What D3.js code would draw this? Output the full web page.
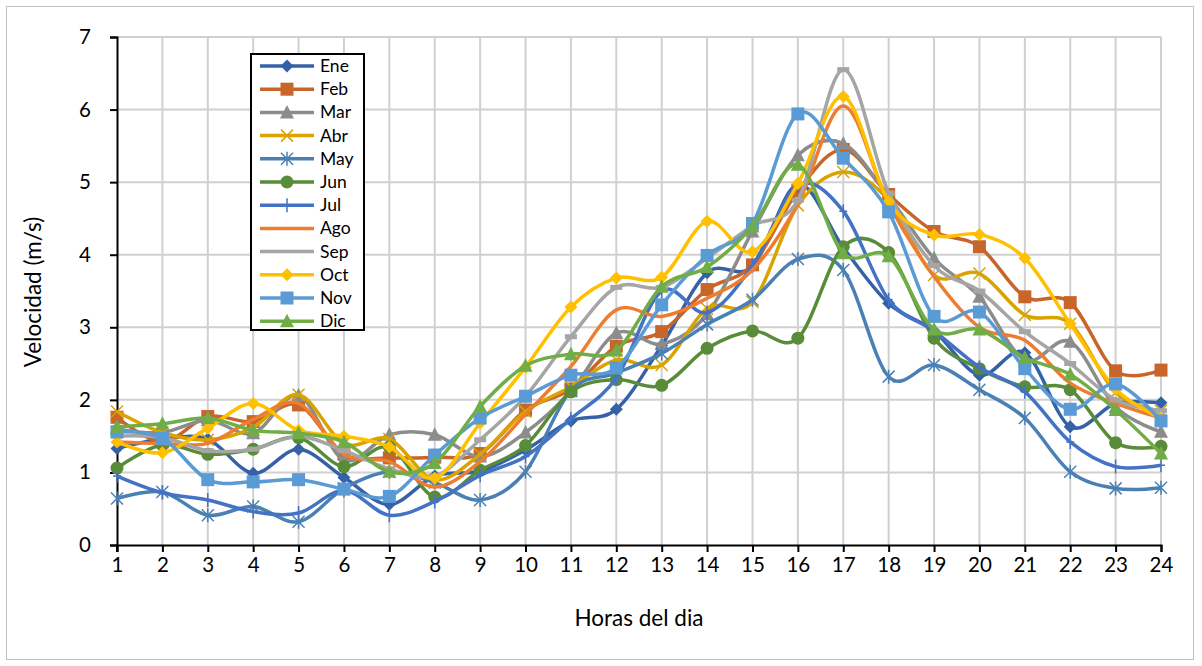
<!DOCTYPE html>
<html>
<head>
<meta charset="utf-8">
<script src="https://cdn.jsdelivr.net/npm/d3@7"></script>
<style>
  body { margin: 0; background: #fff; }
  text { font-family: Lato, "Open Sans", sans-serif; fill: #000; }
</style>
</head>
<body>
<div id="vis"></div>
<script>
// set width and height for svg
var width = 1202;
var height = 666;

// hours of the day (categories)
var hours = d3.range(1, 25);
var yTicks = [0, 1, 2, 3, 4, 5, 6, 7];

// monthly series (m/s)
var months = ["Ene", "Feb", "Mar", "Abr", "May", "Jun", "Jul", "Ago", "Sep", "Oct", "Nov", "Dic"];
var ene = [1.33, 1.46, 1.46, 0.99, 1.32, 0.93, 0.56, 0.95, 1.02, 1.31, 1.71, 1.87, 2.75, 3.75, 3.84, 4.97, 4.1, 3.33, 2.95, 2.34, 2.65, 1.63, 1.95, 1.96];
var feb = [1.76, 1.42, 1.77, 1.7, 1.93, 1.25, 1.2, 1.21, 1.26, 1.86, 2.15, 2.74, 2.94, 3.52, 3.86, 4.88, 5.45, 4.83, 4.32, 4.11, 3.42, 3.34, 2.4, 2.41];
var mar = [1.6, 1.55, 1.72, 1.54, 2.06, 1.17, 1.52, 1.52, 1.22, 1.55, 2.12, 2.92, 2.77, 3.18, 4.32, 5.37, 5.53, 4.8, 3.95, 3.42, 2.55, 2.8, 1.9, 1.56];
var abr = [1.84, 1.55, 1.45, 1.62, 2.07, 1.4, 1.46, 0.9, 1.25, 1.84, 2.18, 2.55, 2.48, 3.26, 3.35, 4.68, 5.14, 4.75, 3.72, 3.74, 3.17, 3.05, 2.1, 1.85];
var may = [0.64, 0.73, 0.41, 0.53, 0.32, 0.78, 1.01, 0.86, 0.62, 1.01, 2.13, 2.37, 2.64, 3.04, 3.38, 3.94, 3.79, 2.32, 2.48, 2.14, 1.75, 1.01, 0.78, 0.79];
var jun = [1.06, 1.38, 1.25, 1.32, 1.48, 1.08, 1.35, 0.66, 1.03, 1.37, 2.11, 2.28, 2.2, 2.71, 2.95, 2.85, 4.11, 4.03, 2.85, 2.43, 2.18, 2.14, 1.41, 1.36];
var jul = [0.95, 0.72, 0.62, 0.46, 0.44, 0.75, 0.41, 0.6, 0.96, 1.22, 1.74, 2.3, 3.5, 3.2, 3.85, 4.95, 4.6, 3.38, 2.95, 2.45, 2.11, 1.42, 1.08, 1.1];
var ago = [1.42, 1.4, 1.4, 1.73, 1.95, 1.25, 1.15, 0.8, 1.15, 1.8, 2.46, 3.24, 3.15, 3.4, 3.79, 4.7, 6.05, 4.7, 3.7, 3.0, 2.82, 2.23, 1.95, 1.75];
var sep = [1.5, 1.48, 1.3, 1.32, 1.5, 1.3, 1.05, 0.95, 1.45, 2.05, 2.87, 3.55, 3.55, 3.95, 4.4, 4.75, 6.55, 4.85, 3.85, 3.5, 2.94, 2.5, 2.0, 1.85];
var oct = [1.42, 1.27, 1.61, 1.95, 1.58, 1.5, 1.35, 0.92, 1.68, 2.45, 3.28, 3.68, 3.69, 4.46, 4.04, 4.98, 6.18, 4.73, 4.27, 4.28, 3.95, 3.05, 2.15, 1.75];
var nov = [1.56, 1.47, 0.9, 0.87, 0.9, 0.77, 0.67, 1.24, 1.75, 2.05, 2.34, 2.44, 3.31, 3.99, 4.43, 5.94, 5.33, 4.59, 3.15, 3.21, 2.43, 1.87, 2.22, 1.71];
var dic = [1.63, 1.67, 1.75, 1.58, 1.54, 1.42, 1.01, 1.13, 1.91, 2.47, 2.63, 2.68, 3.56, 3.83, 4.39, 5.24, 4.02, 3.98, 2.97, 2.97, 2.58, 2.35, 1.86, 1.26];

var seriesValues = [ene, feb, mar, abr, may, jun, jul, ago, sep, oct, nov, dic];
var colors = ["#3461A8", "#C8652B", "#8C8C8C", "#D9A300", "#4A80B3", "#588C38",
              "#4472C4", "#ED7D31", "#A5A5A5", "#FFC000", "#5B9BD5", "#70AD47"];
var markers = ["diamond", "square", "triangle", "x", "asterisk", "circle",
               "plus", "none", "dash", "diamond", "square", "triangle"];

var series = months.map(function(m, i) {
  return { name: m, color: colors[i], marker: markers[i],
           values: seriesValues[i].map(function(v, j) { return { hour: hours[j], value: v }; }) };
});

var svg = d3.select("#vis").append("svg")
  .attr("width", width)
  .attr("height", height);

// outer chart border
svg.append("rect")
  .attr("x", 6.5).attr("y", 6.5)
  .attr("width", 1187).attr("height", 653)
  .attr("fill", "#fff")
  .attr("stroke", "#BFBFBF");

var x = d3.scaleLinear().domain([1, 24]).range([117, 1161]);
var y = d3.scaleLinear().domain([0, 7]).range([545, 37]);

// gridlines
svg.append("g").selectAll("line.h")
  .data(yTicks.slice(1))
  .enter().append("line")
  .attr("x1", x(1)).attr("x2", x(24))
  .attr("y1", d => y(d)).attr("y2", d => y(d))
  .attr("stroke", "#D0D0D0").attr("stroke-width", 2);

svg.append("g").selectAll("line.v")
  .data(hours.slice(1))
  .enter().append("line")
  .attr("x1", d => x(d)).attr("x2", d => x(d))
  .attr("y1", y(0)).attr("y2", y(7))
  .attr("stroke", "#D0D0D0").attr("stroke-width", 2);

// axes
var yAxis = d3.axisLeft(y).tickValues(yTicks).tickSize(7).tickPadding(19).tickFormat(d3.format("d"));
var gy = svg.append("g").attr("transform", "translate(" + x(1) + ",0)").call(yAxis);

var xAxis = d3.axisBottom(x).tickValues(hours).tickSize(7).tickPadding(5).tickFormat(d3.format("d"));
var gx = svg.append("g").attr("transform", "translate(0," + y(0) + ")").call(xAxis);

[gx, gy].forEach(function(g) {
  g.select(".domain").attr("stroke", "#000").attr("stroke-width", 2);
  g.selectAll(".tick line").attr("stroke", "#000").attr("stroke-width", 2);
  g.selectAll("text")
    .attr("font-family", "Lato, 'Open Sans', sans-serif")
    .attr("fill", "#000")
    .style("font-size", "20.5px");
});
// tick at the first category below the x axis
svg.append("line")
  .attr("x1", x(1)).attr("x2", x(1)).attr("y1", y(0)).attr("y2", y(0) + 7)
  .attr("stroke", "#000").attr("stroke-width", 2);

// axis titles
svg.append("text")
  .attr("x", 639).attr("y", 626)
  .attr("text-anchor", "middle")
  .style("font-size", "22.5px")
  .text("Horas del dia");

svg.append("text")
  .attr("transform", "translate(41,292) rotate(-90)")
  .attr("text-anchor", "middle")
  .style("font-size", "22.5px")
  .text("Velocidad (m/s)");

// marker drawing
function drawMarker(g, type, color) {
  var s = 6.5;
  if (type === "diamond") {
    g.append("path").attr("d", "M0," + (-s) + "L" + s + ",0L0," + s + "L" + (-s) + ",0Z").attr("fill", color);
  } else if (type === "square") {
    g.append("rect").attr("x", -s).attr("y", -s).attr("width", 2 * s).attr("height", 2 * s).attr("fill", color);
  } else if (type === "triangle") {
    g.append("path").attr("d", "M0," + (-s - 1) + "L" + (s + 0.5) + "," + (s - 0.5) + "L" + (-s - 0.5) + "," + (s - 0.5) + "Z").attr("fill", color);
  } else if (type === "circle") {
    g.append("circle").attr("r", s).attr("fill", color);
  } else if (type === "x") {
    g.append("path").attr("d", "M-6,-6L6,6M-6,6L6,-6").attr("stroke", color).attr("stroke-width", 1.5).attr("fill", "none");
  } else if (type === "asterisk") {
    g.append("path").attr("d", "M-6,-6L6,6M-6,6L6,-6M0,-7L0,7").attr("stroke", color).attr("stroke-width", 1.5).attr("fill", "none");
  } else if (type === "plus") {
    g.append("path").attr("d", "M0,-7L0,7M-4,0L4,0").attr("stroke", color).attr("stroke-width", 1.5).attr("fill", "none");
  } else if (type === "dash") {
    g.append("rect").attr("x", -6).attr("y", -2.5).attr("width", 12).attr("height", 5).attr("fill", color);
  }
}

var line = d3.line()
  .x(d => x(d.hour))
  .y(d => y(d.value))
  .curve(d3.curveCatmullRom.alpha(0));

var seriesG = svg.append("g").selectAll("g.series")
  .data(series)
  .enter().append("g");

seriesG.each(function(s) {
  var g = d3.select(this);
  g.append("path")
    .attr("d", line(s.values))
    .attr("fill", "none")
    .attr("stroke", s.color)
    .attr("stroke-width", 3.5)
    .attr("stroke-linejoin", "round");
  if (s.marker !== "none") {
    s.values.forEach(function(d) {
      var mg = g.append("g").attr("transform", "translate(" + x(d.hour) + "," + y(d.value) + ")");
      drawMarker(mg, s.marker, s.color);
    });
  }
});

// legend
var legend = svg.append("g");
legend.append("rect")
  .attr("x", 251).attr("y", 54)
  .attr("width", 113).attr("height", 276)
  .attr("fill", "#fff")
  .attr("stroke", "#000").attr("stroke-width", 2);

series.forEach(function(s, i) {
  var ly = 66 + i * 23.2;
  var lg = legend.append("g");
  lg.append("line")
    .attr("x1", 260).attr("x2", 314)
    .attr("y1", ly).attr("y2", ly)
    .attr("stroke", s.color).attr("stroke-width", 3.5);
  if (s.marker !== "none" && s.marker !== "dash") {
    var mg = lg.append("g").attr("transform", "translate(287," + ly + ")");
    drawMarker(mg, s.marker, s.color);
  }
  lg.append("text")
    .attr("x", 320).attr("y", ly + 6)
    .style("font-size", "17.5px")
    .text(s.name);
});
</script>
</body>
</html>
